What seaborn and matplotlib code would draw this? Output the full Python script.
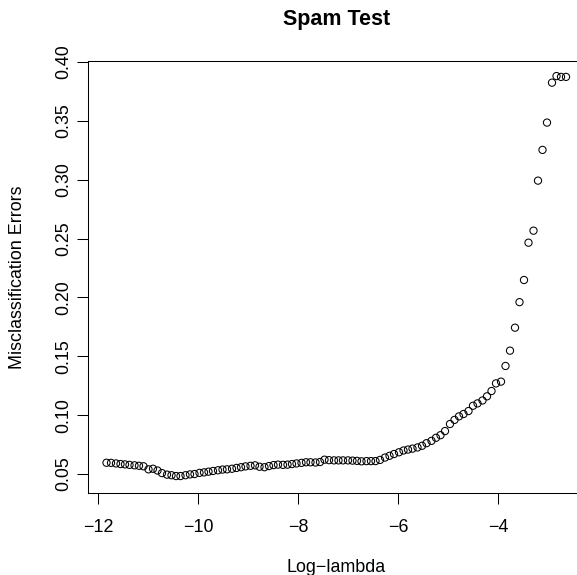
import matplotlib
matplotlib.use("Agg")
import matplotlib.pyplot as plt
import seaborn as sns

# ---- Data (glmnet path, test misclassification) ----
log_lambda = [
    -11.83, -11.74, -11.64, -11.55, -11.46, -11.37, -11.27, -11.18, -11.09, -10.99,
    -10.90, -10.81, -10.72, -10.62, -10.53, -10.44, -10.35, -10.25, -10.16, -10.07,
    -9.97, -9.88, -9.79, -9.70, -9.60, -9.51, -9.42, -9.32, -9.23, -9.14,
    -9.05, -8.95, -8.86, -8.77, -8.67, -8.58, -8.49, -8.40, -8.30, -8.21,
    -8.12, -8.03, -7.93, -7.84, -7.75, -7.65, -7.56, -7.47, -7.38, -7.28,
    -7.19, -7.10, -7.00, -6.91, -6.82, -6.73, -6.63, -6.54, -6.45, -6.36,
    -6.26, -6.17, -6.08, -5.98, -5.89, -5.80, -5.71, -5.61, -5.52, -5.43,
    -5.33, -5.24, -5.15, -5.06, -4.96, -4.87, -4.78, -4.69, -4.59, -4.50,
    -4.41, -4.31, -4.22, -4.13, -4.04, -3.94, -3.85, -3.76, -3.66, -3.57,
    -3.48, -3.39, -3.29, -3.20, -3.11, -3.02, -2.92, -2.83, -2.74, -2.64,
]
misclass_errors = [
    0.0596, 0.0595, 0.0590, 0.0585, 0.0582, 0.0578, 0.0574, 0.0570, 0.0566, 0.0540,
    0.0545, 0.0530, 0.0508, 0.0495, 0.0490, 0.0483, 0.0483, 0.0490, 0.0497, 0.0500,
    0.0510, 0.0514, 0.0520, 0.0526, 0.0532, 0.0538, 0.0540, 0.0545, 0.0552, 0.0558,
    0.0565, 0.0570, 0.0574, 0.0562, 0.0558, 0.0568, 0.0576, 0.0580, 0.0578, 0.0580,
    0.0585, 0.0590, 0.0595, 0.0600, 0.0600, 0.0598, 0.0602, 0.0622, 0.0618, 0.0616,
    0.0616, 0.0616, 0.0616, 0.0614, 0.0612, 0.0608, 0.0610, 0.0610, 0.0610, 0.0620,
    0.0640, 0.0655, 0.0670, 0.0685, 0.0700, 0.0708, 0.0716, 0.0726, 0.0740, 0.0762,
    0.0782, 0.0808, 0.0830, 0.0865, 0.0925, 0.0960, 0.0990, 0.1010, 0.1035, 0.1080,
    0.1100, 0.1125, 0.1160, 0.1205, 0.1270, 0.1285, 0.1418, 0.1548, 0.1743, 0.1960,
    0.2148, 0.2465, 0.2567, 0.2992, 0.3253, 0.3485, 0.3824, 0.3880, 0.3873, 0.3873,
]
x_ticks = [-12, -10, -8, -6, -4]
y_ticks = [0.05, 0.10, 0.15, 0.20, 0.25, 0.30, 0.35, 0.40]

# ---- Style: plain R-like base graphics look ----
sns.set_style("ticks", {
    "axes.edgecolor": "black",
    "xtick.color": "black",
    "ytick.color": "black",
    "text.color": "black",
    "axes.labelcolor": "black",
})
plt.rcParams['font.family'] = ['Liberation Sans', 'DejaVu Sans']

fig = plt.figure(figsize=(5.77, 5.75), dpi=100)
ax = fig.add_axes([88 / 577, 82 / 575, 496.5 / 577, 432 / 575])

sns.scatterplot(
    x=log_lambda, y=misclass_errors, ax=ax,
    s=27, facecolors='none', edgecolors='black', linewidth=0.75,
)

ax.set_xlim(-12.2, -2.27)
ax.set_ylim(0.0339, 0.4008)
ax.set_xticks(x_ticks)
ax.set_yticks(y_ticks)
ax.set_yticklabels([f"{v:.2f}" for v in y_ticks])

ax.tick_params(direction='out', length=7.6, width=0.75, labelsize=12.9)
ax.tick_params(axis='x', pad=10.8)
ax.tick_params(axis='y', pad=3.8, labelrotation=90)
for lbl in ax.get_yticklabels():
    lbl.set_va('center')

for spine in ax.spines.values():
    spine.set_visible(True)
    spine.set_linewidth(0.75)

ax.set_title('Spam Test', fontsize=15.5, fontweight='bold', y=(493 - 19) / 432, pad=0, va='center')
ax.set_xlabel('Log\u2212lambda', fontsize=12.9)
ax.xaxis.set_label_coords(0.5, -0.1713)
ax.xaxis.label.set_va('center')
ax.set_ylabel('Misclassification Errors', fontsize=12.9)
ax.yaxis.set_label_coords(-0.143, 0.5)
ax.yaxis.label.set_va('center')

fig.savefig('out.png', dpi=100)
